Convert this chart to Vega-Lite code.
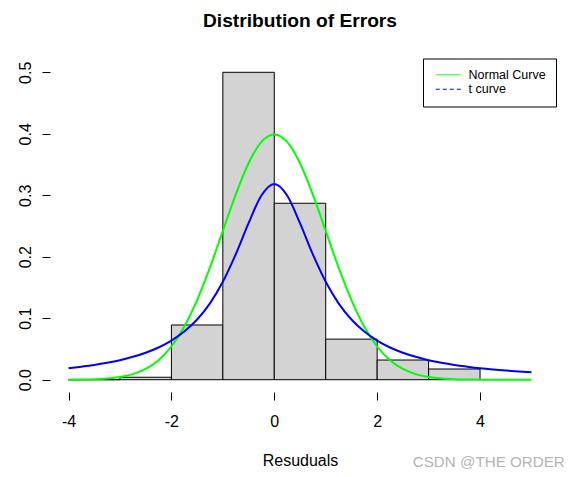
{
  "$schema": "https://vega.github.io/schema/vega-lite/v6.json",
  "width": 500,
  "height": 332,
  "autosize": "none",
  "padding": {"left": 50, "top": 60, "right": 34, "bottom": 85},
  "background": "white",
  "title": {"text": "Distribution of Errors", "font": "Liberation Sans", "fontSize": 19.2, "fontWeight": "bold", "color": "black", "anchor": "middle", "offset": 27},
  "config": {
    "view": {"stroke": null},
    "axis": {"labelFont": "Liberation Sans", "labelFontSize": 16, "labelColor": "black", "tickColor": "black", "tickSize": 8, "tickWidth": 1, "domain": false, "grid": false, "labelFlush": false, "labelOverlap": false, "titleFont": "Liberation Sans", "titleFontSize": 16, "titleFontWeight": "normal", "titleColor": "black"}
  },
  "datasets": {
    "bins": [
      {"bin_start": -4, "bin_end": -3, "density": 0},
      {"bin_start": -3, "bin_end": -2, "density": 0.004},
      {"bin_start": -2, "bin_end": -1, "density": 0.089},
      {"bin_start": -1, "bin_end": 0, "density": 0.5},
      {"bin_start": 0, "bin_end": 1, "density": 0.287},
      {"bin_start": 1, "bin_end": 2, "density": 0.066},
      {"bin_start": 2, "bin_end": 3, "density": 0.032},
      {"bin_start": 3, "bin_end": 4, "density": 0.0174}
    ],
    "curves": [
      {"x": -4, "y": 0.0001, "curve": "Normal Curve"},
      {"x": -3.75, "y": 0.0004, "curve": "Normal Curve"},
      {"x": -3.5, "y": 0.0009, "curve": "Normal Curve"},
      {"x": -3.25, "y": 0.002, "curve": "Normal Curve"},
      {"x": -3, "y": 0.0044, "curve": "Normal Curve"},
      {"x": -2.75, "y": 0.0091, "curve": "Normal Curve"},
      {"x": -2.5, "y": 0.0175, "curve": "Normal Curve"},
      {"x": -2.25, "y": 0.0317, "curve": "Normal Curve"},
      {"x": -2, "y": 0.054, "curve": "Normal Curve"},
      {"x": -1.75, "y": 0.0863, "curve": "Normal Curve"},
      {"x": -1.5, "y": 0.1295, "curve": "Normal Curve"},
      {"x": -1.25, "y": 0.1826, "curve": "Normal Curve"},
      {"x": -1, "y": 0.242, "curve": "Normal Curve"},
      {"x": -0.75, "y": 0.3011, "curve": "Normal Curve"},
      {"x": -0.5, "y": 0.3521, "curve": "Normal Curve"},
      {"x": -0.25, "y": 0.3867, "curve": "Normal Curve"},
      {"x": 0, "y": 0.3989, "curve": "Normal Curve"},
      {"x": 0.25, "y": 0.3867, "curve": "Normal Curve"},
      {"x": 0.5, "y": 0.3521, "curve": "Normal Curve"},
      {"x": 0.75, "y": 0.3011, "curve": "Normal Curve"},
      {"x": 1, "y": 0.242, "curve": "Normal Curve"},
      {"x": 1.25, "y": 0.1826, "curve": "Normal Curve"},
      {"x": 1.5, "y": 0.1295, "curve": "Normal Curve"},
      {"x": 1.75, "y": 0.0863, "curve": "Normal Curve"},
      {"x": 2, "y": 0.054, "curve": "Normal Curve"},
      {"x": 2.25, "y": 0.0317, "curve": "Normal Curve"},
      {"x": 2.5, "y": 0.0175, "curve": "Normal Curve"},
      {"x": 2.75, "y": 0.0091, "curve": "Normal Curve"},
      {"x": 3, "y": 0.0044, "curve": "Normal Curve"},
      {"x": 3.25, "y": 0.002, "curve": "Normal Curve"},
      {"x": 3.5, "y": 0.0009, "curve": "Normal Curve"},
      {"x": 3.75, "y": 0.0004, "curve": "Normal Curve"},
      {"x": 4, "y": 0.0001, "curve": "Normal Curve"},
      {"x": 4.25, "y": 0, "curve": "Normal Curve"},
      {"x": 4.5, "y": 0, "curve": "Normal Curve"},
      {"x": 4.75, "y": 0, "curve": "Normal Curve"},
      {"x": 5, "y": 0, "curve": "Normal Curve"},
      {"x": -4, "y": 0.0187, "curve": "t curve"},
      {"x": -3.75, "y": 0.0212, "curve": "t curve"},
      {"x": -3.5, "y": 0.024, "curve": "t curve"},
      {"x": -3.25, "y": 0.0275, "curve": "t curve"},
      {"x": -3, "y": 0.0318, "curve": "t curve"},
      {"x": -2.75, "y": 0.0372, "curve": "t curve"},
      {"x": -2.5, "y": 0.0439, "curve": "t curve"},
      {"x": -2.25, "y": 0.0524, "curve": "t curve"},
      {"x": -2, "y": 0.0637, "curve": "t curve"},
      {"x": -1.75, "y": 0.0784, "curve": "t curve"},
      {"x": -1.5, "y": 0.0979, "curve": "t curve"},
      {"x": -1.25, "y": 0.1242, "curve": "t curve"},
      {"x": -1, "y": 0.1592, "curve": "t curve"},
      {"x": -0.75, "y": 0.2037, "curve": "t curve"},
      {"x": -0.5, "y": 0.2546, "curve": "t curve"},
      {"x": -0.25, "y": 0.2996, "curve": "t curve"},
      {"x": 0, "y": 0.3183, "curve": "t curve"},
      {"x": 0.25, "y": 0.2996, "curve": "t curve"},
      {"x": 0.5, "y": 0.2546, "curve": "t curve"},
      {"x": 0.75, "y": 0.2037, "curve": "t curve"},
      {"x": 1, "y": 0.1592, "curve": "t curve"},
      {"x": 1.25, "y": 0.1242, "curve": "t curve"},
      {"x": 1.5, "y": 0.0979, "curve": "t curve"},
      {"x": 1.75, "y": 0.0784, "curve": "t curve"},
      {"x": 2, "y": 0.0637, "curve": "t curve"},
      {"x": 2.25, "y": 0.0524, "curve": "t curve"},
      {"x": 2.5, "y": 0.0439, "curve": "t curve"},
      {"x": 2.75, "y": 0.0372, "curve": "t curve"},
      {"x": 3, "y": 0.0318, "curve": "t curve"},
      {"x": 3.25, "y": 0.0275, "curve": "t curve"},
      {"x": 3.5, "y": 0.024, "curve": "t curve"},
      {"x": 3.75, "y": 0.0212, "curve": "t curve"},
      {"x": 4, "y": 0.0187, "curve": "t curve"},
      {"x": 4.25, "y": 0.0167, "curve": "t curve"},
      {"x": 4.5, "y": 0.015, "curve": "t curve"},
      {"x": 4.75, "y": 0.0135, "curve": "t curve"},
      {"x": 5, "y": 0.0122, "curve": "t curve"}
    ],
    "marks": [
      {"label": "CSDN @THE ORDER"}
    ]
  },
  "layer": [
    {
      "data": {"name": "bins"},
      "mark": {"type": "rect", "fill": "#d3d3d3", "stroke": "black", "strokeWidth": 1},
      "encoding": {
        "x": {"field": "bin_start", "type": "quantitative", "scale": {"domain": [-4.36, 5.36], "nice": false, "zero": false}, "axis": {"values": [-4, -2, 0, 2, 4], "labelPadding": 13, "titlePadding": 23, "labelExpr": "datum.value < 0 ? '-' + abs(datum.value) : '' + datum.value"}, "title": "Resuduals"},
        "x2": {"field": "bin_end"},
        "y": {"field": "density", "type": "quantitative", "scale": {"domain": [-0.02, 0.52], "nice": false, "zero": false}, "axis": {"values": [0, 0.1, 0.2, 0.3, 0.4, 0.5], "format": ".1f", "labelAngle": 270, "labelPadding": 9}, "title": null},
        "y2": {"datum": 0}
      }
    },
    {
      "data": {"name": "curves"},
      "mark": {"type": "line", "strokeWidth": 2, "interpolate": "monotone"},
      "encoding": {
        "x": {"field": "x", "type": "quantitative"},
        "y": {"field": "y", "type": "quantitative"},
        "color": {
          "field": "curve", "type": "nominal",
          "scale": {"domain": ["Normal Curve", "t curve"], "range": ["#00ff00", "#0000ff"]},
          "legend": {
            "orient": "none", "legendX": 373, "legendY": -1.5, "title": null,
            "strokeColor": "black", "fillColor": "white", "padding": 10, "cornerRadius": 0,
            "symbolType": "M-2.5,0H2.5", "symbolSize": 100, "symbolStrokeWidth": 1, "symbolOffset": 9,
            "labelFont": "Liberation Sans", "labelFontSize": 12.5, "labelColor": "black", "labelOffset": 14, "rowPadding": 1.5,
            "encode": {"symbols": {"update": {"strokeDash": {"signal": "datum.value === 't curve' ? [4, 3] : [1, 0]"}, "strokeWidth": {"value": 1}}}}
          }
        }
      }
    },
    {
      "mark": {"type": "rule", "color": "black", "strokeWidth": 1},
      "encoding": {"x": {"datum": -4}, "x2": {"datum": 4}, "y": {"datum": -0.02}}
    },
    {
      "mark": {"type": "rule", "color": "black", "strokeWidth": 1},
      "encoding": {"x": {"datum": -4.36}, "y": {"datum": 0}, "y2": {"datum": 0.5}}
    },
    {
      "data": {"name": "marks"},
      "mark": {"type": "text", "font": "Liberation Sans", "fontSize": 15.2, "fill": "#b4b4b4", "align": "center", "baseline": "middle", "clip": false},
      "encoding": {"text": {"field": "label"}, "x": {"datum": 4.17}, "y": {"datum": -0.1335}}
    }
  ]
}
